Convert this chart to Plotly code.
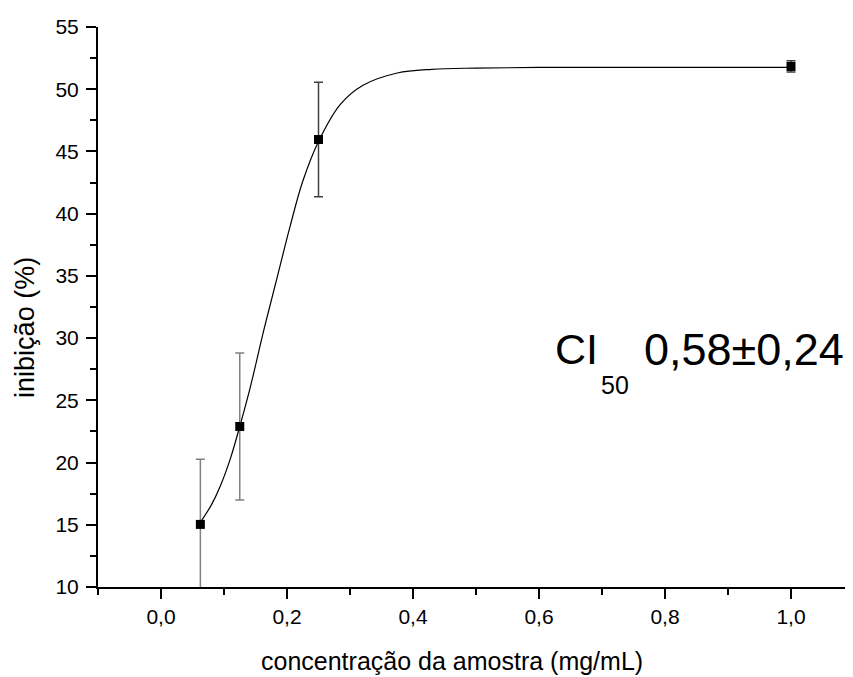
import plotly.graph_objects as go

# measured points (concentration mg/mL, inhibition %)
conc = [0.0625, 0.125, 0.25, 1.0]
inhib = [15.03, 22.9, 45.96, 51.83]
err = [5.23, 5.9, 4.6, 0.45]

# fitted curve
curve_x = [0.0625, 0.08, 0.094, 0.11, 0.125, 0.142, 0.163, 0.185, 0.205, 0.225,
           0.25, 0.285, 0.32, 0.375, 0.43, 0.5, 0.6, 0.8, 1.0]
curve_y = [15.2, 16.6, 18.1, 20.3, 22.9, 26.1, 30.6, 35.0, 39.0, 42.6,
           45.8, 48.8, 50.3, 51.3, 51.6, 51.7, 51.75, 51.75, 51.75]

x_title = "concentração da amostra (mg/mL)"
y_title = "inibição (%)"
note_main = "CI"
note_sub = "50"
note_value = "0,58±0,24"

font_family = "Liberation Sans, Arial, sans-serif"

fig = go.Figure()
fig.add_trace(go.Scatter(
    x=curve_x, y=curve_y, mode="lines", line=dict(color="black", width=1.2, shape="spline"),
    showlegend=False, hoverinfo="skip"))
# error bars: first two points lighter grey, last two darker
fig.add_trace(go.Scatter(
    x=conc[:2], y=inhib[:2], mode="markers",
    marker=dict(symbol="square", size=9, color="black"),
    error_y=dict(type="data", array=err[:2], visible=True, color="#808080", thickness=1.5, width=4.5),
    showlegend=False))
fig.add_trace(go.Scatter(
    x=conc[2:], y=inhib[2:], mode="markers",
    marker=dict(symbol="square", size=9, color="black"),
    error_y=dict(type="data", array=err[2:], visible=True, color="#404040", thickness=1.5, width=4.5),
    showlegend=False))

# CI50 note
fig.add_annotation(x=0.622, y=29.1, xref="x", yref="y", text=note_main, showarrow=False,
                   font=dict(size=43, color="black", family=font_family), xanchor="left", yanchor="middle")
fig.add_annotation(x=0.695, y=26.25, xref="x", yref="y", text=note_sub, showarrow=False,
                   font=dict(size=25, color="black", family=font_family), xanchor="left", yanchor="middle")
fig.add_annotation(x=1.088, y=29.1, xref="x", yref="y", text=note_value, showarrow=False,
                   font=dict(size=45, color="black", family=font_family), xanchor="right", yanchor="middle")

# axis titles (placed as annotations to match the off-centre positions)
fig.add_annotation(x=0.468, y=-0.1317, xref="paper", yref="paper", text=x_title, showarrow=False,
                   font=dict(size=25, color="black", family=font_family), xanchor="center", yanchor="middle")
fig.add_annotation(x=-0.0966, y=0.4644, xref="paper", yref="paper", text=y_title, showarrow=False,
                   textangle=-90, font=dict(size=27, color="black", family=font_family),
                   xanchor="center", yanchor="middle")

axis_common = dict(showline=True, linecolor="black", linewidth=2, ticks="outside", ticklen=10,
                   tickwidth=2, tickcolor="black", showgrid=False, zeroline=False, mirror=False,
                   tickfont=dict(size=21, color="black", family=font_family))

fig.update_xaxes(range=[-0.1, 1.1], tick0=0, dtick=0.2, tickformat=".1f",
                 minor=dict(ticks="outside", ticklen=6, tickwidth=2, tickcolor="black", dtick=0.1, tick0=0),
                 ticklabelstandoff=0, **axis_common)
fig.update_yaxes(range=[10, 55], tick0=10, dtick=5, tickformat="d",
                 minor=dict(ticks="outside", ticklen=6, tickwidth=2, tickcolor="black", dtick=2.5, tick0=10),
                 ticklabelstandoff=3, **axis_common)

fig.update_layout(width=853, height=677, margin=dict(l=90, r=7, t=17, b=98),
                  plot_bgcolor="white", paper_bgcolor="white", separators=", ",
                  font=dict(family=font_family, color="black"))

fig.write_html("out.html")
